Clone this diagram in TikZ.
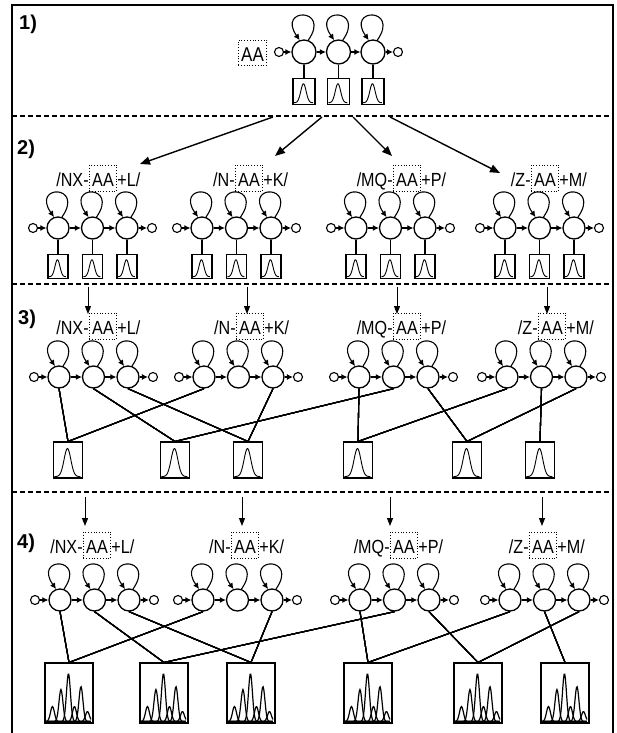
\documentclass[tikz,border=0pt]{standalone}
\usepackage{fontspec}
\setsansfont{Liberation Sans}
\newfontfamily\labfont[FakeStretch=0.85]{Liberation Sans}
\usetikzlibrary{arrows.meta,positioning}
\tikzset{
  hst/.style    ={circle, draw, line width=1.3pt, minimum size=22pt, inner sep=0pt},
  hstbig/.style ={hst, minimum size=24pt},
  term/.style   ={circle, draw, line width=1.1pt, minimum size=9pt, inner sep=0pt},
  tr/.style     ={-{Latex[length=6pt,width=6pt]}, line width=1.1pt},
  emis/.style   ={draw, line width=1.1pt, inner sep=0pt},
  aabox/.style  ={draw, dotted, line width=0.8pt, inner xsep=3pt, inner ysep=0pt, text height=21pt, text depth=5pt, font=\labfont\fontsize{19}{19}\selectfont},
  seq/.style    ={inner sep=0pt, font=\labfont\fontsize{19}{19}\selectfont},
  lnk/.style    ={line width=1.1pt},
  drop/.style   ={-{Triangle[length=8pt,width=6pt]}, line width=1pt},
  fanout/.style ={-{Triangle[length=10pt,width=8pt]}, line width=1.4pt},
  divider/.style={dash pattern=on 5pt off 3pt, line width=1.1pt},
  pnum/.style   ={font=\sffamily\bfseries\fontsize{20}{20}\selectfont, inner sep=0pt, anchor=base west},
  crv/.style    ={line width=0.9pt},
  pk/.style     ={line width=1.2pt},
}

% one profile HMM: prefix, x of first state, y, state style
\newcommand{\hmm}[4]{%
  \node[#4] (#1a) at (#2,#3) {};
  \node[#4] (#1b) at ({#2+34.5},#3) {};
  \node[#4] (#1c) at ({#2+69},#3) {};
  \node[term] (#1i) at ({#2-25},#3) {};
  \node[term] (#1o) at ({#2+94},#3) {};
  \draw[tr] (#1i) -- (#1a);
  \draw[tr] (#1a) -- (#1b);
  \draw[tr] (#1b) -- (#1c);
  \draw[tr] (#1c) -- (#1o);
  \foreach \k in {a,b,c}
    \draw[tr] (#1\k.70) .. controls +(55:40pt) and +(125:40pt) .. (#1\k.110);
}
% sequence label: prefix, x, baseline y, text before, text after
\newcommand{\seqlab}[5]{%
  \node[aabox, anchor=base] (#1aa) at (#2,#3) {AA};
  \node[seq, anchor=base east] (#1pre) at (#1aa.base west) {#4};
  \node[seq, anchor=base west] (#1post) at (#1aa.base east) {#5};
}
% single peak in an emission box: box, width, height, spread
\newcommand{\bell}[4]{%
  \draw[crv, shift={(#1.south west)}] plot[domain=1.5:#2-1.5, samples=40]
    (\x,{-2-(#3)*exp(max(-9,-((\x-#2/2)/(#4))^2))});
}
% spectrum-like trace in a 48x60 box
\newcommand{\trace}[1]{%
  \foreach \c/\h in {8/15, 16.5/32, 24/48, 30/15, 36.5/35, 43/10}
    \draw[pk, shift={(#1.south west)}] plot[domain=1.5:46.5, samples=70]
      (\x,{-2-\h*exp(max(-9,-((\x-\c)/2.8)^2))});
}

\begin{document}
\begin{tikzpicture}[x=1pt, y=-1pt]
  \useasboundingbox (0,0) rectangle (616,733);

  % ---- frame and panel dividers ----
  \draw[line width=1.2pt] (12,733) -- (12,5) -- (613,5) -- (613,733);
  \draw[line width=2pt] (12,5) -- (613,5);
  \draw[divider] (12,116) -- (613,116);
  \draw[divider] (12,284) -- (613,284);
  \draw[divider] (12,492) -- (613,492);
  \node[pnum] (n1) at (19,30) {1)};
  \node[pnum] (n2) at (17,154) {2)};
  \node[pnum] (n3) at (18,324) {3)};
  \node[pnum] (n4) at (17,548) {4)};

  % ---- 1) one model for AA ----
  \node[aabox, font=\labfont\fontsize{20}{20}\selectfont, text height=22pt, text depth=3pt, anchor=base] (p1aa) at (252.5,62) {AA};
  \hmm{p1}{304}{52}{hstbig}
  \foreach \k in {a,b,c}{
    \node[emis, minimum width=22pt, minimum height=26pt, below=13pt of p1\k] (p1m\k) {};
    \draw[lnk] (p1\k.south) -- (p1m\k.north);
    \bell{p1m\k}{22}{19}{3.8}
  }

  % ---- 2) copies in four contexts ----
  \seqlab{p2g1}{103}{186}{/NX-}{+L/}
  \seqlab{p2g2}{249}{186}{/N-}{+K/}
  \seqlab{p2g3}{407}{186}{/MQ-}{+P/}
  \seqlab{p2g4}{545}{186}{/Z-}{+M/}
  \coordinate (f1) at (273,117); \coordinate (t1) at (140,164);
  \coordinate (f2) at (322,117); \coordinate (t2) at (275,156);
  \coordinate (f3) at (353,117); \coordinate (t3) at (392,156);
  \coordinate (f4) at (390,117); \coordinate (t4) at (500,173);
  \draw[fanout] (f1) -- (t1);
  \draw[fanout] (f2) -- (t2);
  \draw[fanout] (f3) -- (t3);
  \draw[fanout] (f4) -- (t4);
  \hmm{p2g1}{58}{228}{hst}
  \hmm{p2g2}{202}{228}{hst}
  \hmm{p2g3}{356}{228}{hst}
  \hmm{p2g4}{505}{228}{hst}
  \foreach \g in {1,2,3,4}
    \foreach \k in {a,b,c}{
      \node[emis, minimum width=20pt, minimum height=24pt, below=14pt of p2g\g\k] (p2g\g m\k) {};
      \draw[lnk] (p2g\g\k.south) -- (p2g\g m\k.north);
      \bell{p2g\g m\k}{20}{17}{3.5}
    }

  % ---- 3) tied emission boxes ----
  \coordinate (d31) at (88,287);  \coordinate (e31) at (88,314);
  \coordinate (d32) at (247,287); \coordinate (e32) at (247,314);
  \coordinate (d33) at (397,287); \coordinate (e33) at (397,314);
  \coordinate (d34) at (547,287); \coordinate (e34) at (547,314);
  \foreach \g in {1,2,3,4} \draw[drop] (d3\g) -- (e3\g);
  \seqlab{p3g1}{103}{334}{/NX-}{+L/}
  \seqlab{p3g2}{250}{334}{/N-}{+K/}
  \seqlab{p3g3}{407}{334}{/MQ-}{+P/}
  \seqlab{p3g4}{552}{334}{/Z-}{+M/}
  \hmm{p3g1}{59}{377}{hst}
  \hmm{p3g2}{204}{377}{hst}
  \hmm{p3g3}{359}{377}{hst}
  \hmm{p3g4}{507}{377}{hst}
  \node[emis, minimum width=29pt, minimum height=36pt] (p3m1) at (68,460) {};
  \node[emis, minimum width=29pt, minimum height=36pt] (p3m2) at (175,460) {};
  \node[emis, minimum width=29pt, minimum height=36pt] (p3m3) at (248,460) {};
  \node[emis, minimum width=29pt, minimum height=36pt] (p3m4) at (358,460) {};
  \node[emis, minimum width=29pt, minimum height=36pt] (p3m5) at (467,460) {};
  \node[emis, minimum width=29pt, minimum height=36pt] (p3m6) at (540,460) {};
  \foreach \m in {1,...,6} \bell{p3m\m}{29}{28}{4.8}
  \foreach \s/\m in {g1a/1, g2a/1, g1b/2, g3b/2, g1c/3, g2c/3, g3a/4, g4a/4, g3c/5, g4c/5, g4b/6}
    \draw[lnk] (p3\s.south) -- (p3m\m.north);

  % ---- 4) trained boxes ----
  \coordinate (d41) at (85,497);  \coordinate (e41) at (85,526);
  \coordinate (d42) at (242,497); \coordinate (e42) at (242,526);
  \coordinate (d43) at (390,497); \coordinate (e43) at (390,526);
  \coordinate (d44) at (542,497); \coordinate (e44) at (542,526);
  \foreach \g in {1,2,3,4} \draw[drop] (d4\g) -- (e4\g);
  \seqlab{p4g1}{97}{553}{/NX-}{+L/}
  \seqlab{p4g2}{245}{553}{/N-}{+K/}
  \seqlab{p4g3}{404}{553}{/MQ-}{+P/}
  \seqlab{p4g4}{543}{553}{/Z-}{+M/}
  \hmm{p4g1}{60}{600}{hst}
  \hmm{p4g2}{203}{600}{hst}
  \hmm{p4g3}{360}{600}{hst}
  \hmm{p4g4}{510}{600}{hst}
  \node[emis, minimum width=48pt, minimum height=60pt] (p4m1) at (69,693) {};
  \node[emis, minimum width=48pt, minimum height=60pt] (p4m2) at (164,693) {};
  \node[emis, minimum width=48pt, minimum height=60pt] (p4m3) at (251,693) {};
  \node[emis, minimum width=48pt, minimum height=60pt] (p4m4) at (368,693) {};
  \node[emis, minimum width=48pt, minimum height=60pt] (p4m5) at (478,693) {};
  \node[emis, minimum width=48pt, minimum height=60pt] (p4m6) at (565,693) {};
  \foreach \m in {1,...,6} \trace{p4m\m}
  \foreach \s/\m in {g1a/1, g2a/1, g1b/2, g3b/2, g1c/3, g2c/3, g3a/4, g4a/4, g3c/5, g4c/5, g4b/6}
    \draw[lnk] (p4\s.south) -- (p4m\m.north);
\end{tikzpicture}
\end{document}
